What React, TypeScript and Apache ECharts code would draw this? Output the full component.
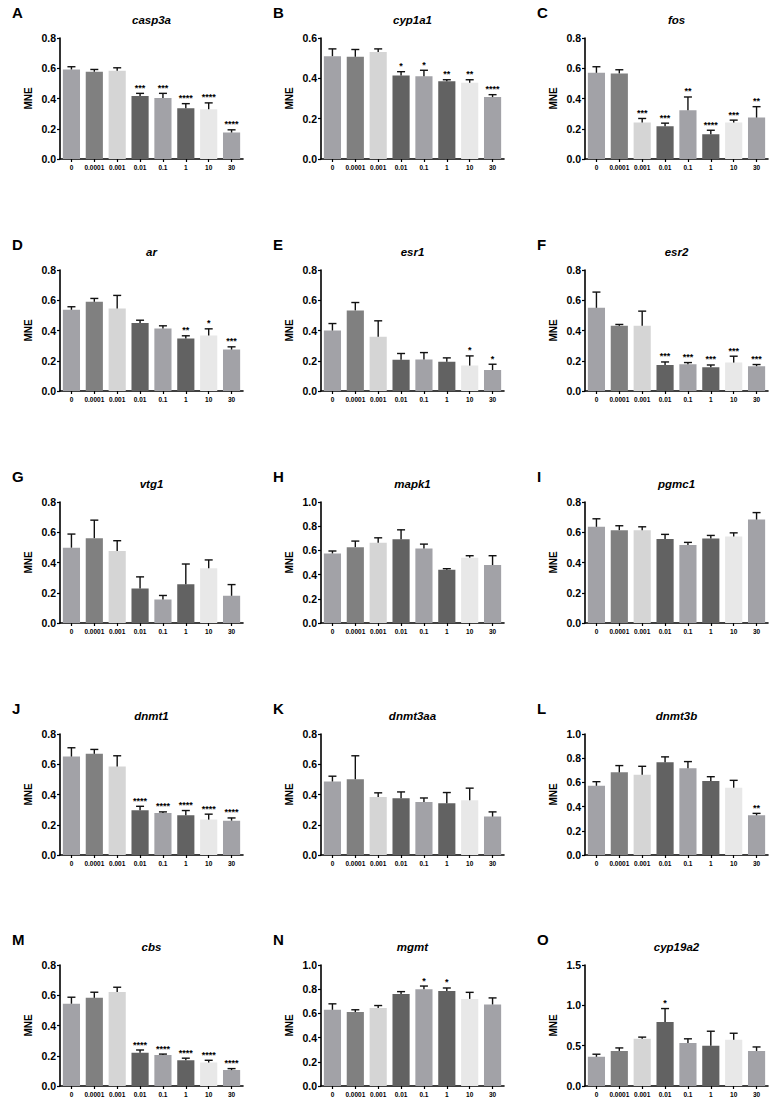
import React, { useEffect, useRef } from "react";
import * as echarts from "echarts";

const categories = ["0", "0.0001", "0.001", "0.01", "0.1", "1", "10", "30"];
const barColors = ["#a2a2a7", "#808080", "#d5d5d5", "#626262", "#a2a2a7", "#626262", "#e8e8e8", "#a2a2a7"];

const casp3aMean = [0.592, 0.577, 0.583, 0.417, 0.404, 0.336, 0.329, 0.175];
const casp3aErr = [0.018, 0.015, 0.02, 0.017, 0.03, 0.03, 0.042, 0.018];
const casp3aSig = ["", "", "", "***", "***", "****", "****", "****"];

const cyp1a1Mean = [0.51, 0.507, 0.531, 0.414, 0.41, 0.386, 0.378, 0.307];
const cyp1a1Err = [0.036, 0.036, 0.015, 0.019, 0.03, 0.007, 0.015, 0.012];
const cyp1a1Sig = ["", "", "", "*", "*", "**", "**", "****"];

const fosMean = [0.57, 0.566, 0.241, 0.217, 0.322, 0.164, 0.241, 0.274];
const fosErr = [0.04, 0.024, 0.027, 0.02, 0.088, 0.026, 0.016, 0.072];
const fosSig = ["", "", "***", "***", "**", "****", "***", "**"];

const arMean = [0.537, 0.59, 0.546, 0.449, 0.413, 0.347, 0.367, 0.274];
const arErr = [0.02, 0.022, 0.086, 0.019, 0.018, 0.018, 0.044, 0.018];
const arSig = ["", "", "", "", "", "**", "*", "***"];

const esr1Mean = [0.4, 0.533, 0.358, 0.206, 0.208, 0.194, 0.168, 0.139];
const esr1Err = [0.046, 0.052, 0.106, 0.042, 0.046, 0.025, 0.064, 0.038];
const esr1Sig = ["", "", "", "", "", "", "*", "*"];

const esr2Mean = [0.55, 0.431, 0.431, 0.172, 0.177, 0.157, 0.188, 0.164];
const esr2Err = [0.104, 0.009, 0.097, 0.02, 0.011, 0.015, 0.042, 0.011];
const esr2Sig = ["", "", "", "***", "***", "***", "***", "***"];

const vtg1Mean = [0.498, 0.561, 0.476, 0.228, 0.156, 0.257, 0.362, 0.18];
const vtg1Err = [0.09, 0.119, 0.068, 0.077, 0.026, 0.133, 0.055, 0.074];
const vtg1Sig = ["", "", "", "", "", "", "", ""];

const mapk1Mean = [0.575, 0.627, 0.663, 0.693, 0.616, 0.441, 0.54, 0.479];
const mapk1Err = [0.02, 0.05, 0.041, 0.077, 0.036, 0.008, 0.016, 0.077];
const mapk1Sig = ["", "", "", "", "", "", "", ""];

const pgmc1Mean = [0.636, 0.614, 0.614, 0.555, 0.515, 0.559, 0.572, 0.684];
const pgmc1Err = [0.053, 0.029, 0.022, 0.031, 0.018, 0.02, 0.024, 0.046];
const pgmc1Sig = ["", "", "", "", "", "", "", ""];

const dnmt1Mean = [0.651, 0.669, 0.585, 0.296, 0.278, 0.263, 0.234, 0.227];
const dnmt1Err = [0.058, 0.029, 0.071, 0.026, 0.007, 0.031, 0.036, 0.018];
const dnmt1Sig = ["", "", "", "****", "****", "****", "****", "****"];

const dnmt3aaMean = [0.486, 0.501, 0.384, 0.375, 0.351, 0.342, 0.362, 0.254];
const dnmt3aaErr = [0.035, 0.155, 0.027, 0.042, 0.026, 0.071, 0.08, 0.031];
const dnmt3aaSig = ["", "", "", "", "", "", "", ""];

const dnmt3bMean = [0.572, 0.683, 0.664, 0.767, 0.717, 0.611, 0.556, 0.328];
const dnmt3bErr = [0.034, 0.056, 0.069, 0.044, 0.055, 0.036, 0.061, 0.016];
const dnmt3bSig = ["", "", "", "", "", "", "", "**"];

const cbsMean = [0.544, 0.583, 0.622, 0.22, 0.205, 0.17, 0.155, 0.105];
const cbsErr = [0.043, 0.037, 0.031, 0.018, 0.006, 0.014, 0.015, 0.01];
const cbsSig = ["", "", "", "****", "****", "****", "****", "****"];

const mgmtMean = [0.63, 0.611, 0.644, 0.761, 0.799, 0.785, 0.72, 0.674];
const mgmtErr = [0.049, 0.019, 0.021, 0.019, 0.027, 0.025, 0.054, 0.054];
const mgmtSig = ["", "", "", "", "*", "*", "", ""];

const cyp19a2Mean = [0.362, 0.435, 0.585, 0.793, 0.533, 0.5, 0.573, 0.435];
const cyp19a2Err = [0.032, 0.037, 0.021, 0.167, 0.052, 0.179, 0.081, 0.049];
const cyp19a2Sig = ["", "", "", "*", "", "", "", ""];

const panels = [
  { letter: "A", gene: "casp3a", mean: casp3aMean, err: casp3aErr, sig: casp3aSig, max: 0.8, interval: 0.2 },
  { letter: "B", gene: "cyp1a1", mean: cyp1a1Mean, err: cyp1a1Err, sig: cyp1a1Sig, max: 0.6, interval: 0.2 },
  { letter: "C", gene: "fos", mean: fosMean, err: fosErr, sig: fosSig, max: 0.8, interval: 0.2 },
  { letter: "D", gene: "ar", mean: arMean, err: arErr, sig: arSig, max: 0.8, interval: 0.2 },
  { letter: "E", gene: "esr1", mean: esr1Mean, err: esr1Err, sig: esr1Sig, max: 0.8, interval: 0.2 },
  { letter: "F", gene: "esr2", mean: esr2Mean, err: esr2Err, sig: esr2Sig, max: 0.8, interval: 0.2 },
  { letter: "G", gene: "vtg1", mean: vtg1Mean, err: vtg1Err, sig: vtg1Sig, max: 0.8, interval: 0.2 },
  { letter: "H", gene: "mapk1", mean: mapk1Mean, err: mapk1Err, sig: mapk1Sig, max: 1.0, interval: 0.2 },
  { letter: "I", gene: "pgmc1", mean: pgmc1Mean, err: pgmc1Err, sig: pgmc1Sig, max: 0.8, interval: 0.2 },
  { letter: "J", gene: "dnmt1", mean: dnmt1Mean, err: dnmt1Err, sig: dnmt1Sig, max: 0.8, interval: 0.2 },
  { letter: "K", gene: "dnmt3aa", mean: dnmt3aaMean, err: dnmt3aaErr, sig: dnmt3aaSig, max: 0.8, interval: 0.2 },
  { letter: "L", gene: "dnmt3b", mean: dnmt3bMean, err: dnmt3bErr, sig: dnmt3bSig, max: 1.0, interval: 0.2 },
  { letter: "M", gene: "cbs", mean: cbsMean, err: cbsErr, sig: cbsSig, max: 0.8, interval: 0.2 },
  { letter: "N", gene: "mgmt", mean: mgmtMean, err: mgmtErr, sig: mgmtSig, max: 1.0, interval: 0.2 },
  { letter: "O", gene: "cyp19a2", mean: cyp19a2Mean, err: cyp19a2Err, sig: cyp19a2Sig, max: 1.5, interval: 0.5 },
];

const FONT = "'Liberation Sans', Arial, Helvetica, sans-serif";
const colLefts = [60, 321, 585];
const rowTops = [38, 270, 502, 734, 965];
const plotW = 183;
const plotH = 121;

function buildOption() {
  const grid: any[] = [];
  const xAxis: any[] = [];
  const yAxis: any[] = [];
  const series: any[] = [];
  const graphic: any[] = [];

  panels.forEach((p, i) => {
    const r = Math.floor(i / 3);
    const c = i % 3;
    const left = colLefts[c];
    const top = rowTops[r];
    grid.push({ left, top, width: plotW, height: plotH, containLabel: false });
    xAxis.push({
      type: "category",
      gridIndex: i,
      data: categories,
      axisLine: { lineStyle: { color: "#000", width: 1.6 } },
      axisTick: { show: true, alignWithLabel: true, length: 3, lineStyle: { color: "#000", width: 1.2 } },
      axisLabel: { color: "#000", fontSize: 6.5, fontWeight: "bold", fontFamily: FONT, margin: 5, interval: 0 },
      splitLine: { show: false },
    });
    yAxis.push({
      type: "value",
      gridIndex: i,
      min: 0,
      max: p.max,
      interval: p.interval,
      name: "MNE",
      nameLocation: "middle",
      nameRotate: 90,
      nameGap: 27,
      nameTextStyle: { color: "#000", fontSize: 10, fontWeight: "bold", fontFamily: FONT },
      axisLine: { show: true, lineStyle: { color: "#000", width: 1.6 } },
      axisTick: { show: true, length: 3, lineStyle: { color: "#000", width: 1.2 } },
      axisLabel: {
        color: "#000",
        fontSize: 10.5,
        fontWeight: "bold",
        fontFamily: FONT,
        margin: 4,
        formatter: (v: number) => v.toFixed(1),
      },
      splitLine: { show: false },
    });
    series.push({
      type: "bar",
      xAxisIndex: i,
      yAxisIndex: i,
      barWidth: "75%",
      silent: true,
      data: p.mean.map((v, k) => ({ value: v, itemStyle: { color: barColors[k] } })),
    });
    const sig = p.sig;
    series.push({
      type: "custom",
      xAxisIndex: i,
      yAxisIndex: i,
      silent: true,
      clip: false,
      z: 5,
      encode: { x: 0, y: 1 },
      data: p.mean.map((v, k) => [k, v, p.err[k]]),
      renderItem: (params: any, api: any) => {
        const x = api.value(0);
        const m = api.value(1);
        const e = api.value(2);
        const p0 = api.coord([x, m]);
        const p1 = api.coord([x, m + e]);
        const capHalf = 4;
        const children: any[] = [
          { type: "line", shape: { x1: p0[0], y1: p0[1], x2: p1[0], y2: p1[1] }, style: { stroke: "#111", lineWidth: 1.4 } },
          { type: "line", shape: { x1: p1[0] - capHalf, y1: p1[1], x2: p1[0] + capHalf, y2: p1[1] }, style: { stroke: "#111", lineWidth: 1.4 } },
        ];
        const s = sig[params.dataIndex];
        if (s) {
          children.push({
            type: "text",
            x: p1[0],
            y: p1[1] - 1,
            style: {
              text: s,
              fill: "#000",
              fontSize: 9,
              fontWeight: "bold",
              fontFamily: FONT,
              textAlign: "center",
              textVerticalAlign: "bottom",
            },
          });
        }
        return { type: "group", children };
      },
    });
    graphic.push({
      type: "text",
      left: left - 48,
      top: top - 33,
      style: { text: p.letter, fill: "#000", fontSize: 15, fontWeight: "bold", fontFamily: FONT },
    });
    graphic.push({
      type: "text",
      x: left + plotW / 2,
      y: top - 18,
      style: {
        text: p.gene,
        fill: "#000",
        fontSize: 11.5,
        fontWeight: "bold",
        fontStyle: "italic",
        fontFamily: FONT,
        textAlign: "center",
        textVerticalAlign: "middle",
      },
    });
  });

  return { animation: false, backgroundColor: "#fff", grid, xAxis, yAxis, series, graphic };
}

export default function App() {
  const ref = useRef<HTMLDivElement>(null);
  useEffect(() => {
    if (!ref.current) return;
    const chart = echarts.init(ref.current, undefined, { renderer: "svg" });
    chart.setOption(buildOption() as any);
    return () => chart.dispose();
  }, []);
  return (
    <div
      ref={ref}
      style={{ position: "absolute", left: 0, top: 0, width: 775, height: 1100, background: "#fff" }}
    />
  );
}
